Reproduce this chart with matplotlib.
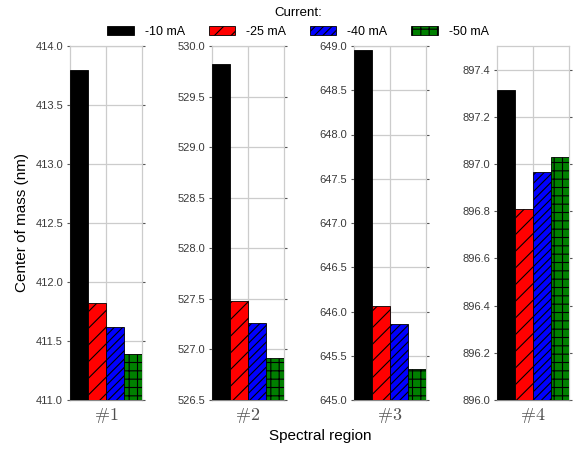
import numpy as np
import matplotlib
matplotlib.use('Agg')
import matplotlib.pyplot as plt
from matplotlib.patches import Patch

plt.rcParams['font.family'] = ['Liberation Sans', 'DejaVu Sans']
plt.rcParams['mathtext.fontset'] = 'cm'
plt.rcParams['hatch.linewidth'] = 0.8

regions = ['#1', '#2', '#3', '#4']
currents = ['-10 mA', '-25 mA', '-40 mA', '-50 mA']

# center of mass (nm) per region, one value per current
com_r1 = [413.80, 411.82, 411.62, 411.39]
com_r2 = [529.82, 527.48, 527.26, 526.92]
com_r3 = [648.95, 646.06, 645.86, 645.35]
com_r4 = [897.315, 896.81, 896.965, 897.03]

ylims = [(411.0, 414.0), (526.5, 530.0), (645.0, 649.0), (896.0, 897.5)]
yticks = [np.arange(411.0, 414.01, 0.5), np.arange(526.5, 530.01, 0.5),
          np.arange(645.0, 649.01, 0.5), np.arange(896.0, 897.41, 0.2)]

colors = ['black', 'red', 'blue', 'green']
hatches = ['', '//', '////', '++']

fig = plt.figure(figsize=(5.77, 4.51), dpi=100)
lefts = [70, 212, 354, 497]
axw = 72
W, H = 577, 451
top, bottom = 46, 400

data = [com_r1, com_r2, com_r3, com_r4]
for i in range(4):
    ax = fig.add_axes([lefts[i] / W, 1 - bottom / H, axw / W, (bottom - top) / H])
    x = np.arange(4)
    for j in range(4):
        ax.bar(x[j], data[i][j] - ylims[i][0], bottom=ylims[i][0], width=1.0,
               color=colors[j], hatch=hatches[j], edgecolor='black', linewidth=0.6,
               zorder=3)
    ax.set_xlim(-0.5, 3.5)
    ax.set_ylim(*ylims[i])
    ax.set_yticks(yticks[i])
    ax.set_yticklabels(['%.1f' % v for v in yticks[i]], fontsize=8, color='#3a3a3a')
    ax.set_xticks([1.5])
    ax.set_xticklabels([r'$\%s$' % regions[i]], fontsize=13, color='#505050')
    ax.grid(True, color='#cccccc', linewidth=0.9, zorder=0)
    ax.set_axisbelow(True)
    for s in ax.spines.values():
        s.set_color('#cccccc')
        s.set_linewidth(0.9)
    ax.spines['bottom'].set_color('#888888')
    ax.tick_params(axis='y', which='both', left=True, right=True, length=2,
                   width=0.8, color='#555555', pad=3)
    ax.tick_params(axis='x', length=0, pad=4)

fig.text(22 / W, 1 - 223 / H, 'Center of mass (nm)', rotation=90,
         ha='center', va='center', fontsize=11)
fig.text(320 / W, 1 - 436 / H, 'Spectral region', ha='center', va='center',
         fontsize=11)

handles = [Patch(facecolor=colors[j], hatch=hatches[j], edgecolor='black',
                 linewidth=0.6, label=currents[j]) for j in range(4)]
leg = fig.legend(handles=handles, loc='upper center', ncol=4,
                 bbox_to_anchor=(298 / W, 1.0), frameon=False, fontsize=9,
                 title='Current:', title_fontsize=9.5, handlelength=2.1,
                 handleheight=0.8, columnspacing=1.9, handletextpad=0.9,
                 borderaxespad=0.2)

fig.savefig('out.png', dpi=100)
